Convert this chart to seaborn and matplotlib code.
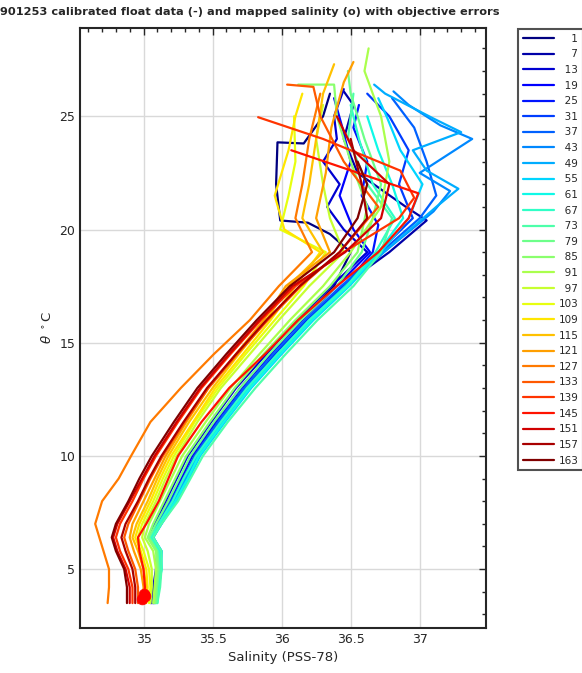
import numpy as np
import pandas as pd
import matplotlib
matplotlib.use("Agg")
from matplotlib import pyplot as plt
from matplotlib.ticker import MultipleLocator
import seaborn as sns

# profile numbers shown in the legend (every 6th profile)
profile_ids = [1, 7, 13, 19, 25, 31, 37, 43, 49, 55, 61, 67, 73, 79, 85,
               91, 97, 103, 109, 115, 121, 127, 133, 139, 145, 151, 157, 163]
n_profiles = 163

# deep part: salinity at fixed potential temperature levels
deep_theta = [3.5, 4.2, 5.0, 5.8, 6.4, 7.0, 8.0, 9.0, 10.0, 11.5, 13.0, 14.5, 16.0, 17.5]
deep_salinity = [
    [35.06, 35.08, 35.10, 35.11, 35.05, 35.10, 35.18, 35.27, 35.35, 35.52, 35.70, 35.92, 36.14, 36.38],
    [35.07, 35.09, 35.11, 35.12, 35.07, 35.12, 35.21, 35.29, 35.37, 35.54, 35.73, 35.95, 36.18, 36.44],
    [35.05, 35.07, 35.09, 35.10, 35.04, 35.08, 35.16, 35.24, 35.32, 35.49, 35.67, 35.89, 36.11, 36.36],
    [35.06, 35.08, 35.10, 35.11, 35.06, 35.11, 35.19, 35.27, 35.35, 35.52, 35.71, 35.92, 36.15, 36.40],
    [35.07, 35.09, 35.11, 35.12, 35.07, 35.12, 35.21, 35.30, 35.38, 35.55, 35.74, 35.96, 36.19, 36.45],
    [35.08, 35.10, 35.12, 35.12, 35.06, 35.12, 35.22, 35.31, 35.39, 35.56, 35.75, 35.97, 36.20, 36.46],
    [35.07, 35.09, 35.11, 35.11, 35.05, 35.10, 35.20, 35.29, 35.37, 35.54, 35.73, 35.94, 36.17, 36.43],
    [35.08, 35.10, 35.12, 35.13, 35.07, 35.13, 35.23, 35.31, 35.40, 35.57, 35.76, 35.98, 36.21, 36.47],
    [35.09, 35.10, 35.12, 35.12, 35.06, 35.12, 35.22, 35.30, 35.39, 35.56, 35.75, 35.97, 36.20, 36.46],
    [35.09, 35.11, 35.13, 35.13, 35.07, 35.13, 35.24, 35.33, 35.41, 35.59, 35.78, 36.00, 36.23, 36.49],
    [35.10, 35.11, 35.13, 35.12, 35.06, 35.12, 35.23, 35.32, 35.40, 35.58, 35.77, 35.99, 36.22, 36.48],
    [35.09, 35.10, 35.12, 35.11, 35.05, 35.11, 35.21, 35.29, 35.38, 35.56, 35.75, 35.97, 36.20, 36.47],
    [35.10, 35.12, 35.13, 35.13, 35.07, 35.13, 35.25, 35.34, 35.43, 35.61, 35.81, 36.03, 36.26, 36.52],
    [35.09, 35.10, 35.11, 35.10, 35.04, 35.09, 35.18, 35.26, 35.34, 35.51, 35.70, 35.91, 36.14, 36.40],
    [35.08, 35.09, 35.10, 35.09, 35.03, 35.07, 35.15, 35.23, 35.31, 35.48, 35.66, 35.87, 36.10, 36.35],
    [35.07, 35.08, 35.09, 35.07, 35.01, 35.04, 35.12, 35.20, 35.28, 35.45, 35.63, 35.84, 36.06, 36.30],
    [35.05, 35.06, 35.06, 35.03, 34.99, 35.01, 35.09, 35.16, 35.24, 35.39, 35.56, 35.77, 35.98, 36.20],
    [35.04, 35.05, 35.04, 35.00, 34.96, 34.99, 35.07, 35.14, 35.22, 35.37, 35.54, 35.74, 35.95, 36.16],
    [35.02, 35.03, 35.02, 34.98, 34.94, 34.97, 35.05, 35.12, 35.20, 35.36, 35.52, 35.72, 35.92, 36.10],
    [35.01, 35.02, 35.00, 34.96, 34.92, 34.95, 35.03, 35.10, 35.18, 35.33, 35.50, 35.69, 35.89, 36.05],
    [34.99, 35.00, 34.98, 34.93, 34.90, 34.92, 35.00, 35.08, 35.16, 35.31, 35.47, 35.67, 35.87, 36.03],
    [34.74, 34.75, 34.75, 34.71, 34.68, 34.65, 34.70, 34.82, 34.91, 35.05, 35.27, 35.51, 35.77, 35.98],
    [34.96, 34.96, 34.94, 34.89, 34.86, 34.89, 34.97, 35.05, 35.14, 35.30, 35.47, 35.68, 35.90, 36.14],
    [34.92, 34.92, 34.89, 34.83, 34.80, 34.83, 34.92, 35.00, 35.09, 35.25, 35.42, 35.63, 35.85, 36.10],
    [35.00, 35.01, 35.00, 34.97, 34.96, 35.02, 35.11, 35.18, 35.25, 35.42, 35.62, 35.88, 36.12, 36.40],
    [34.90, 34.90, 34.87, 34.81, 34.78, 34.81, 34.90, 34.99, 35.08, 35.24, 35.41, 35.62, 35.84, 36.08],
    [34.94, 34.94, 34.92, 34.87, 34.84, 34.87, 34.96, 35.04, 35.13, 35.29, 35.46, 35.67, 35.89, 36.13],
    [34.88, 34.88, 34.86, 34.80, 34.77, 34.80, 34.89, 34.97, 35.06, 35.22, 35.39, 35.60, 35.82, 36.06],
]

# upper part (mixed layer), one list per profile
upper_theta = [
    [19.0, 19.8, 20.3, 20.4, 22.0, 23.85, 23.8, 25.0, 26.0],
    [19.0, 20.4, 21.0, 22.5, 24.0, 25.5, 26.1],
    [19.0, 20.0, 21.0, 22.0, 23.0, 24.0, 25.0, 26.2],
    [19.0, 20.0, 21.5, 23.0, 24.5, 25.8],
    [19.0, 20.2, 21.5, 23.0, 24.5, 25.5],
    [19.0, 20.5, 22.0, 23.5, 25.0, 26.0],
    [19.0, 20.5, 21.5, 23.0, 24.5, 25.8],
    [19.0, 20.8, 21.7, 22.5, 24.0, 24.6, 25.5, 26.1],
    [19.0, 21.0, 21.8, 22.6, 23.5, 24.3, 24.9, 26.0, 26.4],
    [19.0, 20.5, 22.0, 23.5, 25.0, 25.8],
    [19.0, 20.5, 22.0, 23.5, 25.0],
    [19.0, 20.5, 22.0, 24.0, 25.5],
    [19.0, 20.5, 22.0, 24.0, 26.0],
    [19.0, 20.5, 22.0, 24.0, 26.0, 27.0],
    [19.0, 21.0, 23.0, 25.0, 26.4, 26.4],
    [19.0, 21.0, 23.0, 25.0, 27.0, 28.0],
    [19.0, 20.5, 22.0, 24.0, 25.5],
    [19.0, 20.0, 21.5, 23.0, 25.0],
    [19.0, 20.0, 21.5, 23.5, 25.0, 26.0],
    [19.0, 20.5, 22.0, 24.0, 26.0, 27.3],
    [19.0, 20.5, 22.5, 24.5, 26.5, 27.4],
    [19.0, 20.5, 22.0, 24.0, 26.0],
    [19.0, 21.0, 23.0, 25.0, 26.3, 26.4],
    [19.0, 20.5, 21.4, 22.6, 24.0, 24.96],
    [19.0, 20.5, 21.6, 23.5],
    [19.0, 20.5, 22.0, 23.5, 25.0],
    [19.0, 20.5, 22.0, 24.0],
    [19.0, 20.5, 22.0, 23.0],
]
upper_salinity = [
    [36.50, 36.35, 36.19, 35.99, 35.96, 35.97, 36.16, 36.30, 36.35],
    [36.78, 37.05, 36.90, 36.55, 36.45, 36.52, 36.45],
    [36.62, 36.45, 36.33, 36.42, 36.30, 36.40, 36.38, 36.45],
    [36.64, 36.52, 36.42, 36.50, 36.44, 36.38],
    [36.66, 36.70, 36.58, 36.62, 36.52, 36.56],
    [36.70, 36.95, 36.85, 36.92, 36.78, 36.62],
    [36.72, 37.00, 37.12, 37.05, 36.96, 36.80],
    [36.74, 37.10, 37.22, 37.00, 37.38, 37.15, 36.92, 36.81],
    [36.74, 37.12, 37.28, 37.05, 36.95, 37.30, 37.10, 36.75, 36.67],
    [36.72, 36.92, 37.02, 36.86, 36.76, 36.70],
    [36.70, 36.88, 36.80, 36.70, 36.62],
    [36.68, 36.82, 36.66, 36.56, 36.50],
    [36.72, 36.80, 36.62, 36.48, 36.52],
    [36.58, 36.66, 36.72, 36.60, 36.50, 36.48],
    [36.55, 36.62, 36.50, 36.40, 36.38, 36.12],
    [36.50, 36.72, 36.78, 36.72, 36.60, 36.63],
    [36.45, 36.35, 36.30, 36.25, 36.30],
    [36.32, 35.99, 36.05, 36.10, 36.09],
    [36.28, 36.02, 35.95, 36.05, 36.10, 36.15],
    [36.30, 36.15, 36.20, 36.25, 36.30, 36.38],
    [36.35, 36.25, 36.32, 36.36, 36.45, 36.52],
    [36.22, 36.10, 36.15, 36.20, 36.28],
    [36.42, 36.70, 36.45, 36.28, 36.23, 36.04],
    [36.45, 36.85, 36.96, 36.86, 36.30, 35.83],
    [36.70, 36.92, 36.99, 36.07],
    [36.46, 36.72, 36.78, 36.52, 36.40],
    [36.42, 36.62, 36.58, 36.50],
    [36.38, 36.55, 36.62, 36.55],
]

# mapped salinity points (o) near the bottom
mapped_salinity = [34.99, 35.01, 35.00]
mapped_theta = [3.70, 3.80, 3.90]


def BuildTable():
    rows = []
    for k, pid in enumerate(profile_ids):
        th = deep_theta + upper_theta[k]
        sa = deep_salinity[k] + upper_salinity[k]
        for j in range(len(th)):
            rows.append({"profile": str(pid), "step": j, "theta": th[j], "salinity": sa[j]})
    return pd.DataFrame(rows)


def main():
    sns.set_theme(style="white")
    plt.rcParams["font.family"] = ["DejaVu Sans"]

    df = BuildTable()
    jet = plt.get_cmap("jet")
    palette = {str(p): jet((p - 1) / (n_profiles - 1)) for p in profile_ids}
    order = [str(p) for p in profile_ids]

    fig = plt.figure(figsize=(5.82, 6.73), dpi=100)
    ax = fig.add_axes([80 / 582, 1 - 628 / 673, 406 / 582, 600 / 673])

    sns.lineplot(data=df, x="salinity", y="theta", hue="profile", hue_order=order,
                 palette=palette, sort=False, estimator=None, lw=1.6, ax=ax, legend="full")
    sns.scatterplot(x=mapped_salinity, y=mapped_theta, color="red", s=60,
                    edgecolor="red", linewidth=0.5, ax=ax, legend=False, zorder=5)

    ax.set_xlim(34.54, 37.48)
    ax.set_ylim(2.4, 28.9)
    ax.set_xticks([35, 35.5, 36, 36.5, 37])
    ax.set_xticklabels(["35", "35.5", "36", "36.5", "37"])
    ax.set_yticks([5, 10, 15, 20, 25])
    ax.xaxis.set_minor_locator(MultipleLocator(0.1))
    ax.yaxis.set_minor_locator(MultipleLocator(1))
    ax.tick_params(which="both", direction="in", top=True, right=True,
                   color="#262626", labelsize=9, labelcolor="#262626")
    ax.tick_params(which="major", length=5, width=1)
    ax.tick_params(which="minor", length=3, width=1)
    ax.grid(True, which="major", color="#d9d9d9", lw=1)
    for s in ax.spines.values():
        s.set_color("#262626")
        s.set_linewidth(1.5)

    ax.set_xlabel("Salinity (PSS-78)", fontsize=9.5, color="#262626")
    ax.set_ylabel(r"$\theta\ ^\circ$C", fontsize=9.5, color="#262626")

    fig.text(500 / 582, 1 - 12 / 673, "5901253 calibrated float data (-) and mapped salinity (o) with objective errors",
             ha="right", va="center", fontsize=8.2, fontweight="bold")

    # right aligned labels like the original, padded with figure spaces
    handles, labels = ax.get_legend_handles_labels()
    labels = [l.rjust(3, "\u2007") for l in labels]
    leg = ax.legend(handles, labels, loc="upper left", bbox_to_anchor=(518 / 582, 1 - 29 / 673),
                    bbox_transform=fig.transFigure, fontsize=7.5, frameon=True,
                    fancybox=False, borderaxespad=0, handlelength=3.05,
                    labelspacing=0.54, handletextpad=0.38, borderpad=0.45)
    leg.get_frame().set_edgecolor("#262626")
    leg.get_frame().set_linewidth(1.5)
    for line in leg.get_lines():
        line.set_linewidth(1.6)

    fig.savefig("out.png", dpi=100)


if __name__ == "__main__":
    main()
